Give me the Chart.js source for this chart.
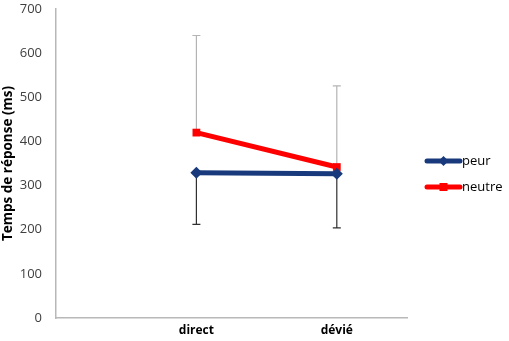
<!DOCTYPE html>
<html>
<head>
<meta charset="utf-8">
<script src="https://cdn.jsdelivr.net/npm/chart.js@4"></script>
<style>
  html, body { margin: 0; padding: 0; background: #fff; }
  #wrap { width: 509px; height: 341px; }
</style>
</head>
<body>
<div id="wrap"><canvas id="chart"></canvas></div>
<script>
// data
var categories = ['direct', 'dévié'];
var peurValues = [329, 327];
var neutreValues = [420, 342];
var peurErrDown = [117, 123];   // bars go down only
var neutreErrUp = [220, 184];   // bars go up only
var yTicks = [0, 100, 200, 300, 400, 500, 600, 700];

var FONT = "'Open Sans', 'Liberation Sans', sans-serif";
var NAVY = '#183a7c';
var RED = '#ff0000';

function points(values) {
    return values.map(function(v, i) { return { x: i + 1, y: v }; });
}

// error bars drawn from the scales, behind the lines
var errorBars = {
    id: 'errorBars',
    beforeDatasetsDraw: function(chart) {
        var ctx = chart.ctx;
        var xs = chart.scales.x, ys = chart.scales.y;
        function bar(i, from, to, color) {
            var px = xs.getPixelForValue(i + 1);
            var y1 = ys.getPixelForValue(from), y2 = ys.getPixelForValue(to);
            ctx.save();
            ctx.strokeStyle = color;
            ctx.lineWidth = 1.2;
            ctx.beginPath();
            ctx.moveTo(px, y1);
            ctx.lineTo(px, y2);
            ctx.moveTo(px - 4, y2);
            ctx.lineTo(px + 4, y2);
            ctx.stroke();
            ctx.restore();
        }
        for (var i = 0; i < categories.length; i++) {
            bar(i, neutreValues[i], neutreValues[i] + neutreErrUp[i], '#b4b4b4');
            bar(i, peurValues[i], peurValues[i] - peurErrDown[i], '#303030');
        }
    }
};

// legend: line with marker, then the label
var sideLegend = {
    id: 'sideLegend',
    afterDraw: function(chart) {
        var ctx = chart.ctx;
        var items = [
            { text: 'peur', color: NAVY, shape: 'diamond', y: 161 },
            { text: 'neutre', color: RED, shape: 'square', y: 187 }
        ];
        var x0 = 427, x1 = 460;
        items.forEach(function(it) {
            ctx.save();
            ctx.strokeStyle = it.color;
            ctx.lineWidth = 5;
            ctx.lineCap = 'round';
            ctx.beginPath();
            ctx.moveTo(x0, it.y);
            ctx.lineTo(x1, it.y);
            ctx.stroke();
            ctx.fillStyle = it.color;
            var cx = (x0 + x1) / 2;
            ctx.beginPath();
            if (it.shape === 'diamond') {
                ctx.moveTo(cx, it.y - 5);
                ctx.lineTo(cx + 5, it.y);
                ctx.lineTo(cx, it.y + 5);
                ctx.lineTo(cx - 5, it.y);
                ctx.closePath();
            } else {
                ctx.rect(cx - 4, it.y - 4, 8, 8);
            }
            ctx.fill();
            ctx.fillStyle = '#000';
            ctx.font = '13px ' + FONT;
            ctx.textBaseline = 'middle';
            ctx.fillText(it.text, x1 + 2, it.y);
            ctx.restore();
        });
    }
};

new Chart(document.getElementById('chart'), {
    type: 'line',
    data: {
        datasets: [{
            label: 'peur',
            data: points(peurValues),
            borderColor: NAVY,
            backgroundColor: NAVY,
            borderWidth: 5,
            pointStyle: 'rectRot',
            pointRadius: 6,
            pointBorderWidth: 0,
            order: 1
        }, {
            label: 'neutre',
            data: points(neutreValues),
            borderColor: RED,
            backgroundColor: RED,
            borderWidth: 5,
            pointStyle: 'rect',
            pointRadius: 5.5,
            pointBorderWidth: 0,
            order: 2
        }]
    },
    options: {
        responsive: true,
        maintainAspectRatio: false,
        animation: false,
        layout: { padding: { left: 0, top: 9, right: 102, bottom: 0 } },
        plugins: { legend: { display: false }, tooltip: { enabled: false } },
        scales: {
            x: {
                type: 'linear',
                min: 0,
                max: 2.5,
                grid: { display: false, drawTicks: false },
                border: { color: '#b8b8b8', width: 1.5 },
                afterBuildTicks: function(s) {
                    s.ticks = categories.map(function(c, i) { return { value: i + 1 }; });
                },
                afterFit: function(s) {
                    s.height = 23;
                    s.paddingLeft = 0;
                    s.paddingRight = 0;
                },
                ticks: {
                    padding: 5,
                    color: '#000',
                    font: { family: FONT, size: 12, weight: 'bold' },
                    callback: function(v) { return categories[v - 1] || ''; }
                }
            },
            y: {
                min: 0,
                max: 700,
                grid: { display: false, drawTicks: false },
                border: { color: '#b8b8b8', width: 1.5 },
                afterBuildTicks: function(s) {
                    s.ticks = yTicks.map(function(v) { return { value: v }; });
                },
                afterFit: function(s) {
                    s.width = 56;
                    s.paddingTop = 0;
                    s.paddingBottom = 0;
                },
                ticks: {
                    padding: 14,
                    color: '#404040',
                    font: { family: FONT, size: 13 }
                },
                title: {
                    display: true,
                    text: 'Temps de réponse (ms)',
                    color: '#000',
                    padding: { top: 0, bottom: 0 },
                    font: { family: FONT, size: 13.5, weight: 'bold' }
                }
            }
        }
    },
    plugins: [errorBars, sideLegend]
});
</script>
</body>
</html>
